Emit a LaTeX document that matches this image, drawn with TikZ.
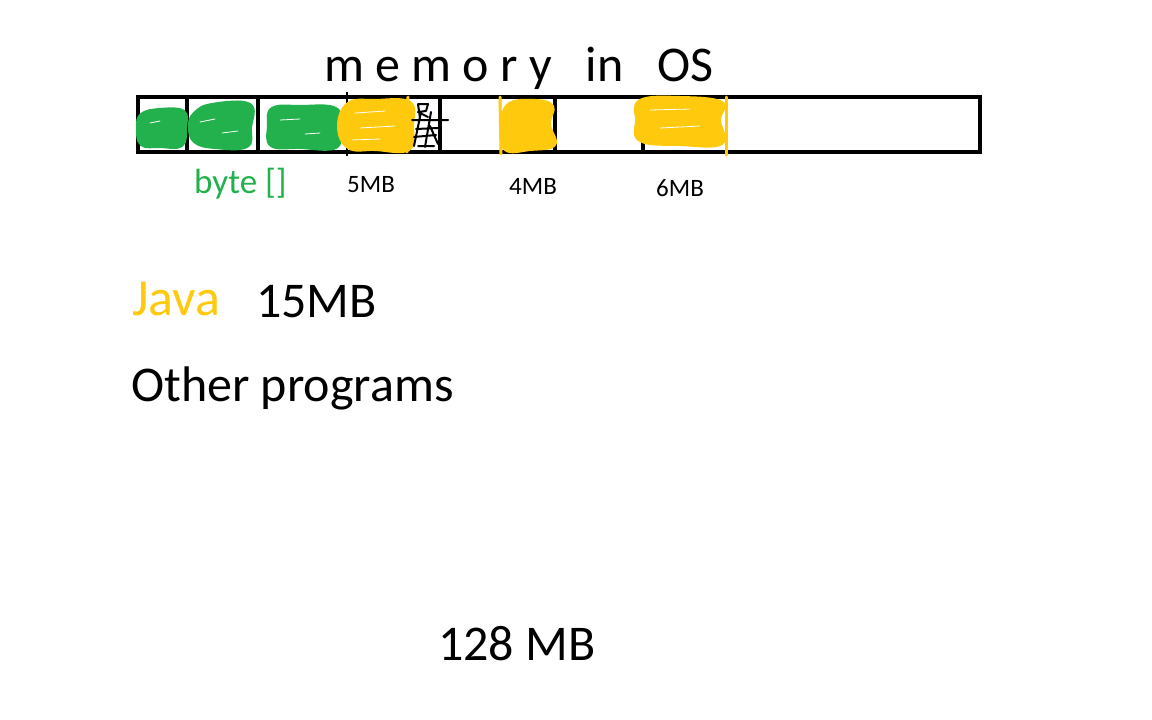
\documentclass[tikz,border=0pt]{standalone}
\usepackage{fontspec}
\setmainfont{Carlito}
\definecolor{pgreen}{RGB}{34,177,76}
\definecolor{pyellow}{RGB}{255,201,14}
\begin{document}
\begin{tikzpicture}[x=1pt,y=-1pt,
  txt/.style={inner sep=0pt,anchor=base west,font=\fontsize{#1}{#1}\selectfont},
  barline/.style={line width=3.6pt},
  gblob/.style={fill=pgreen,draw=pgreen,line width=2pt,line join=round},
  yblob/.style={fill=pyellow,draw=pyellow,line width=2pt,line join=round},
  ymark/.style={draw=pyellow,line width=3pt,line cap=round},
  scribble/.style={draw=black,line width=2pt,line cap=round,line join=round}]
\useasboundingbox (0,0) rectangle (1152,720);
\fill[white] (0,0) rectangle (1152,720);

% memory bar
\draw[barline] (138,97) rectangle (980,152);
\foreach \xx in {187,258,440,555,643} \draw[barline] (\xx,97) -- (\xx,152);

% green blobs (byte [])
\draw[gblob] plot[smooth cycle,tension=0.7] coordinates {(141,114) (160,109) (184,111) (186,128) (182,146) (160,147) (141,145) (137,128)};
\draw[gblob] plot[smooth cycle,tension=0.7] coordinates {(194,113) (212,104) (250,104) (251,128) (247,147) (215,148) (194,142) (189,126)};
\draw[gblob] plot[smooth cycle,tension=0.7] coordinates {(272,108) (300,106) (336,108) (339,128) (336,148) (300,148) (271,146) (268,126)};
\draw[white,line width=0.8pt,line cap=round] (150,123) -- (160,121) (200,122) -- (215,119) (222,133) -- (238,131) (280,120) -- (300,119) (305,134) -- (320,133);

% yellow 5MB block
\draw[black,line width=2.4pt] (347,92) -- (347,156);
\draw[yblob] plot[smooth cycle,tension=0.7] coordinates {(348,103) (375,100) (410,102) (413,125) (409,150) (375,150) (348,148) (338,126)};
\draw[black,line width=2.4pt] (347,92) -- (347,100) (347,150) -- (347,156);
\draw[ymark] (408,97) -- (407,152);
\draw[white,line width=0.8pt,line cap=round] (355,113) -- (385,111) (360,128) -- (395,126) (352,140) -- (380,139);
% black scribble
\draw[scribble] (418,104) -- (420,118) (418,104) -- (428,104) -- (426,111) -- (418,112) -- (428,117);
\draw[scribble] (412,120) -- (448,120) (416,129) -- (438,128) (421,112) -- (414,146) (431,112) -- (425,147) (414,137) -- (436,135) (430,126) -- (438,144) (418,146) -- (434,146);

% yellow 4MB block
\draw[yblob] plot[smooth cycle,tension=0.7] coordinates {(508,104) (535,100) (553,106) (550,124) (555,145) (530,150) (505,150) (502,126)};
\draw[ymark] (500,97) -- (501,154);

% yellow 6MB block
\draw[yblob] plot[smooth cycle,tension=0.7] coordinates {(640,100) (680,97) (722,102) (720,120) (722,144) (680,145) (640,141) (636,120)};
\draw[ymark] (726,97) -- (726,155);
\draw[white,line width=0.8pt,line cap=round] (650,110) -- (690,109) (660,128) -- (700,126);

% texts
\node[txt=50] (title) at (324,81) {m e m o r y \ \ in \ \ OS};
\node[txt=35,text=pgreen] (byte) at (194,193) {byte []};
\node[txt=25] (m5) at (347,192) {5MB};
\node[txt=25] (m4) at (509,194) {4MB};
\node[txt=25] (m6) at (656,196) {6MB};
\node[txt=52,text=pyellow] (java) at (132,315) {Java};
\node[txt=50] (j15) at (256,317) {15MB};
\node[txt=50] (other) at (131,401) {Other programs};
\node[txt=50] (total) at (438,660) {128 MB};
\end{tikzpicture}
\end{document}
